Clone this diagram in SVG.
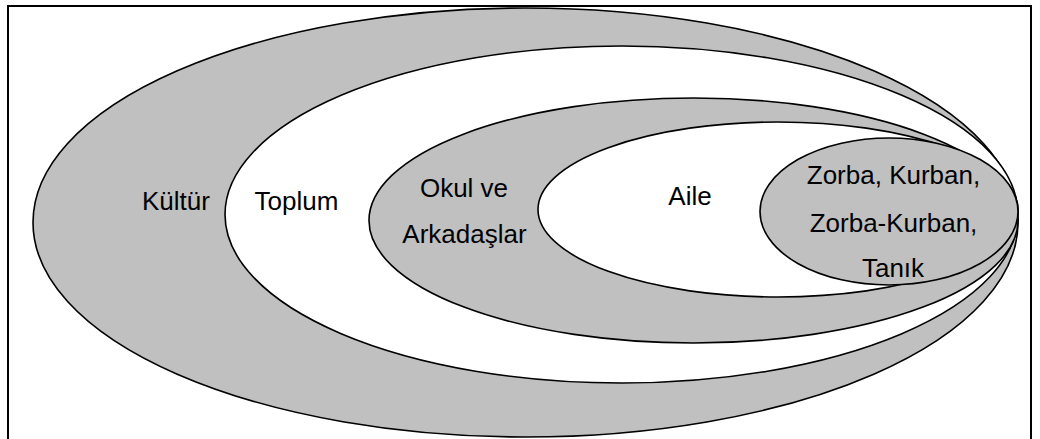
<svg xmlns="http://www.w3.org/2000/svg" width="1040" height="439" viewBox="0 0 1040 439">
<style>
.frame{fill:#fff;stroke:#000;stroke-width:2}
.g{fill:#c0c0c0;stroke:#000;stroke-width:1.6}
.w{fill:#fff;stroke:#000;stroke-width:1.6}
text{font-family:"Liberation Sans",Arial,sans-serif;font-size:26px;fill:#000;text-anchor:middle}
</style>
<rect class="frame" x="8" y="6" width="1023" height="440"/>
<g id="kultur">
<ellipse class="g" cx="525.5" cy="222.5" rx="492.5" ry="214.5"/>
<text x="176" y="210">Kültür</text>
</g>
<g id="toplum">
<ellipse class="w" cx="621.5" cy="214.5" rx="396.5" ry="168.5"/>
<text x="296.5" y="210">Toplum</text>
</g>
<g id="okul">
<ellipse class="g" cx="693.5" cy="220.5" rx="324.5" ry="122.5"/>
<text x="464" y="197">Okul ve</text>
<text x="464.5" y="243">Arkadaşlar</text>
</g>
<g id="aile">
<ellipse class="w" cx="778" cy="209.5" rx="240" ry="87.5"/>
<text x="690" y="205">Aile</text>
</g>
<g id="zorba">
<ellipse class="g" cx="889" cy="211.5" rx="129" ry="73.5"/>
<text x="893.5" y="184">Zorba, Kurban,</text>
<text x="893.5" y="231.5">Zorba-Kurban,</text>
<text x="893" y="277">Tanık</text>
</g>
<g id="connectors"/>
</svg>
